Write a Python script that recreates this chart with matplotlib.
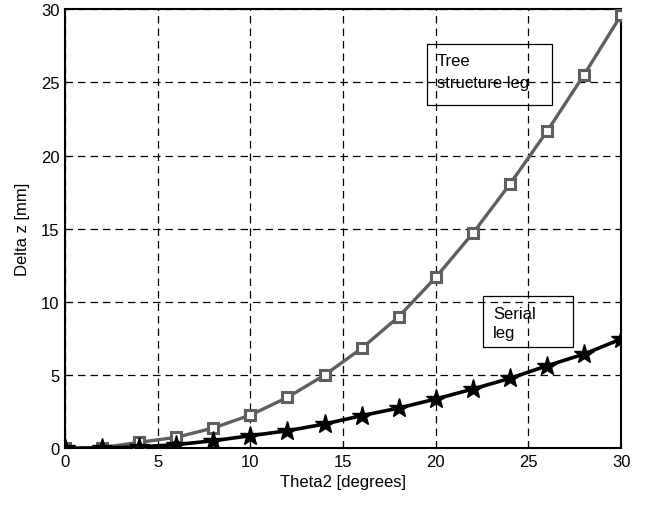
import matplotlib
matplotlib.use("Agg")
import matplotlib.pyplot as plt
from matplotlib.patches import Rectangle

plt.rcParams["font.family"] = ["Liberation Sans", "DejaVu Sans"]

# angle of theta2 in degrees
theta2 = [0, 2, 4, 6, 8, 10, 12, 14, 16, 18, 20, 22, 24, 26, 28, 30]
# delta z [mm] for the two leg types
tree_leg = [0.0, 0.05, 0.41, 0.75, 1.39, 2.27, 3.48, 5.0, 6.83, 8.99,
            11.68, 14.69, 18.05, 21.65, 25.52, 29.6]
serial_leg = [0.0, 0.02, 0.1, 0.25, 0.52, 0.86, 1.2, 1.66, 2.23, 2.75,
              3.37, 4.05, 4.78, 5.64, 6.44, 7.47]

fig = plt.figure(figsize=(6.51, 5.06), dpi=100)
ax = fig.add_axes([0.0998, 0.112, 0.8544, 0.868])

ax.plot(theta2, tree_leg, color="#5f5f5f", lw=2.4, marker="s", ms=7,
        mfc="white", mec="#5f5f5f", mew=2.2, zorder=3)
ax.plot(theta2, serial_leg, color="black", lw=2.6, marker="*", ms=15,
        mfc="black", mec="black", zorder=4)

ax.set_xlim(0, 30)
ax.set_ylim(0, 30)
ax.set_xticks(range(0, 31, 5))
ax.set_yticks(range(0, 31, 5))
ax.grid(True, color="black", linestyle=(0, (6, 4)), linewidth=0.9)
ax.tick_params(direction="in", length=4, labelsize=12, pad=4)
for s in ax.spines.values():
    s.set_linewidth(1.5)
ax.set_xlabel("Theta2 [degrees]", fontsize=12, labelpad=4)
ax.set_ylabel("Delta z [mm]", fontsize=12, labelpad=8)

# annotation boxes
ax.add_patch(Rectangle((0.6516, 0.781), 0.2248, 0.139, transform=ax.transAxes,
                       fill=False, edgecolor="black", lw=0.9, zorder=5))
ax.text(0.668, 0.900, "Tree\nstructure leg", transform=ax.transAxes,
        fontsize=12, va="top", ha="left", linespacing=1.55, zorder=5)
ax.add_patch(Rectangle((0.7523, 0.2299), 0.1619, 0.1168, transform=ax.transAxes,
                       fill=False, edgecolor="black", lw=0.9, zorder=5))
ax.text(0.770, 0.325, "Serial\nleg", transform=ax.transAxes,
        fontsize=12, va="top", ha="left", linespacing=1.35, zorder=5)

fig.savefig("out.png", dpi=100)
